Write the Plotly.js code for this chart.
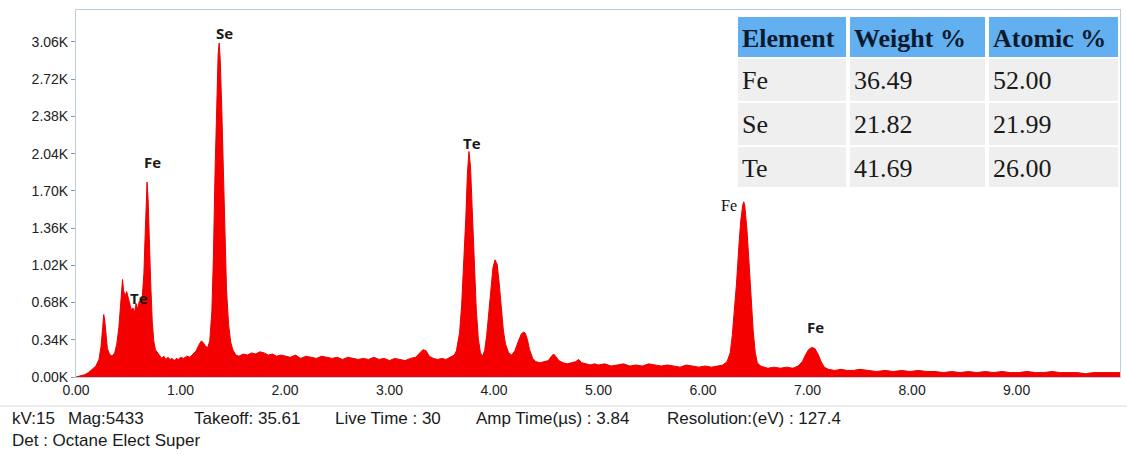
<!DOCTYPE html>
<html>
<head>
<meta charset="utf-8">
<script src="https://cdn.plot.ly/plotly-3.0.1.min.js"></script>
<style>html,body{margin:0;padding:0;background:#fff;}#chart{width:1127px;height:456px;}</style>
</head>
<body>
<div id="chart"></div>
<script>
// ---- Spectrum data (energy in keV, counts in K) ----
const energyA = [0.00,0.04,0.08,0.12,0.16,0.19,0.22,0.24,0.255,0.265,0.275,0.285,0.30,0.32,0.345,0.37,0.39,0.41,0.425,0.435,0.445,0.455,0.47,0.485,0.50,0.515,0.53,0.545,0.56,0.575,0.59,0.605,0.62,0.635,0.65,0.66,0.67,0.68,0.69,0.70,0.715,0.73,0.745,0.76,0.78,0.80,0.82,0.84,0.86,0.88,0.90,0.92,0.94,0.96,0.98];
const countsA = [0.00,0.01,0.02,0.04,0.07,0.10,0.16,0.28,0.45,0.57,0.52,0.38,0.26,0.21,0.19,0.22,0.30,0.45,0.62,0.80,0.89,0.79,0.74,0.78,0.72,0.66,0.61,0.63,0.59,0.67,0.62,0.69,0.66,0.74,0.95,1.25,1.55,1.78,1.62,1.25,0.85,0.50,0.32,0.25,0.22,0.19,0.17,0.19,0.16,0.18,0.16,0.17,0.15,0.17,0.16];

const energyB = [1.00,1.03,1.06,1.09,1.12,1.15,1.18,1.20,1.22,1.24,1.26,1.28,1.30,1.315,1.33,1.345,1.36,1.37,1.38,1.395,1.41,1.425,1.44,1.46,1.48,1.50,1.53,1.56,1.60,1.64,1.68,1.72,1.76,1.80,1.84,1.88,1.92,1.96];
const countsB = [0.18,0.17,0.19,0.18,0.21,0.24,0.30,0.33,0.31,0.28,0.27,0.33,0.60,1.10,1.85,2.55,2.95,3.05,2.90,2.45,1.85,1.25,0.80,0.48,0.32,0.25,0.20,0.19,0.21,0.20,0.22,0.21,0.23,0.22,0.20,0.21,0.19,0.20];

const energyC = [2.00,2.05,2.10,2.15,2.20,2.25,2.30,2.35,2.40,2.45,2.50,2.55,2.60,2.65,2.70,2.75,2.80,2.85,2.90,2.95,3.00,3.05,3.10,3.15,3.20,3.25,3.29,3.32,3.35,3.38,3.42,3.46,3.50,3.54,3.58,3.62];
const countsC = [0.19,0.18,0.20,0.17,0.19,0.18,0.17,0.19,0.18,0.17,0.18,0.16,0.18,0.17,0.16,0.17,0.16,0.18,0.16,0.17,0.15,0.17,0.16,0.15,0.17,0.18,0.22,0.25,0.24,0.19,0.17,0.16,0.17,0.16,0.18,0.20];

const energyD = [3.64,3.67,3.69,3.71,3.73,3.745,3.76,3.775,3.79,3.81,3.83,3.85,3.87,3.89,3.91,3.93,3.95,3.97,3.99,4.01,4.03,4.05,4.07,4.09,4.11,4.14,4.17,4.20,4.23,4.26,4.28,4.30,4.32,4.34,4.37,4.40,4.44,4.48,4.52,4.55,4.57,4.59,4.62,4.66,4.70,4.74,4.78,4.81,4.84,4.88,4.92,4.96];
const countsD = [0.24,0.40,0.65,1.00,1.45,1.85,2.06,1.92,1.55,1.05,0.62,0.35,0.22,0.19,0.24,0.38,0.58,0.82,1.00,1.07,1.03,0.85,0.62,0.42,0.30,0.22,0.20,0.24,0.32,0.39,0.41,0.40,0.34,0.25,0.17,0.14,0.13,0.14,0.15,0.19,0.21,0.19,0.15,0.13,0.12,0.13,0.14,0.16,0.13,0.12,0.11,0.12];

const energyE = [5.00,5.06,5.12,5.18,5.24,5.30,5.36,5.42,5.48,5.54,5.60,5.66,5.72,5.78,5.84,5.90,5.96,6.02,6.08,6.14,6.19,6.23];
const countsE = [0.11,0.12,0.10,0.11,0.12,0.10,0.11,0.10,0.12,0.11,0.10,0.11,0.10,0.09,0.11,0.10,0.09,0.10,0.09,0.10,0.11,0.14];

const energyF = [6.26,6.28,6.30,6.32,6.34,6.36,6.38,6.39,6.40,6.42,6.44,6.46,6.48,6.50,6.52,6.55,6.58];
const countsF = [0.22,0.38,0.58,0.85,1.15,1.42,1.57,1.60,1.56,1.35,1.05,0.72,0.42,0.22,0.13,0.10,0.09];

const energyG = [6.62,6.68,6.74,6.80,6.86,6.91,6.95,6.98,7.01,7.04,7.07,7.10,7.13,7.16,7.20,7.26,7.32,7.38,7.44,7.50,7.58,7.66,7.74,7.82,7.90,7.98,8.06,8.14,8.22,8.30,8.38,8.46,8.54,8.62,8.70,8.78,8.86,8.94,9.02,9.10,9.18,9.26,9.34,9.42,9.50,9.58,9.66,9.74,9.82,9.90,10.00];
const countsG = [0.08,0.09,0.08,0.09,0.08,0.10,0.14,0.20,0.25,0.27,0.26,0.21,0.14,0.09,0.07,0.06,0.07,0.06,0.06,0.07,0.06,0.05,0.06,0.05,0.06,0.05,0.06,0.05,0.05,0.04,0.05,0.04,0.05,0.04,0.05,0.04,0.05,0.04,0.04,0.05,0.04,0.04,0.05,0.04,0.04,0.04,0.03,0.04,0.04,0.04,0.04];

// ---- Peak labels ----
const peakLabels   = ['Se', 'Fe', 'Te', 'Te', 'Fe', 'Fe'];
const peakEnergy   = [1.42, 0.73, 0.60, 3.79, 6.25, 7.08];
const peakLabelK   = [3.14, 1.96, 0.72, 2.14, 1.57, 0.46];
const peakSerif    = [false, false, false, false, true, false];

// ---- Quantification table ----
const tableHeader  = ['Element', 'Weight %', 'Atomic %'];
const tableElement = ['Fe', 'Se', 'Te'];
const weightPct    = ['36.49', '21.82', '41.69'];
const atomicPct    = ['52.00', '21.99', '26.00'];

// ---- Acquisition info ----
const infoLine1 = ['kV:15', 'Mag:5433', 'Takeoff: 35.61', 'Live Time : 30', 'Amp Time(\u00b5s) : 3.84', 'Resolution:(eV) : 127.4'];
const infoLine2 = ['Det : Octane Elect Super'];

// ---- Build ----
const energy = [].concat(energyA, energyB, energyC, energyD, energyE, energyF, energyG);
const counts = [].concat(countsA, countsB, countsC, countsD, countsE, countsF, countsG);

const W = 1127, H = 456, ML = 76, MR = 7, MT = 10, MB = 79;
const PW = W - ML - MR, PH = H - MT - MB;
const px = x => (x - ML) / PW;
const py = y => (H - MB - y) / PH;

const trace = {
  type: 'scatter', mode: 'lines', x: energy, y: counts,
  fill: 'tozeroy', fillcolor: 'rgb(245,0,0)',
  line: {color: 'rgb(235,0,0)', width: 1, shape: 'linear'},
  hoverinfo: 'skip'
};

const shapes = [];
const annotations = [];

// separator line under the axis labels
shapes.push({type: 'line', xref: 'paper', yref: 'paper', x0: px(0), x1: px(W), y0: py(406), y1: py(406),
             line: {color: '#dcdcdc', width: 1}});

// peak labels
peakLabels.forEach((t, i) => {
  annotations.push({
    x: peakEnergy[i], y: peakLabelK[i], xref: 'x', yref: 'y', text: t, showarrow: false,
    xanchor: 'center', yanchor: 'middle',
    font: peakSerif[i] ? {family: 'Liberation Serif, Times New Roman, serif', size: 16, color: '#111'}
                       : {family: 'Open Sans, Liberation Sans, Arial', size: 15, color: '#1a1a1a', weight: 'bold'}
  });
});

// table geometry (pixel boundaries)
const colX = [[738, 846], [850, 985], [989, 1118]];
const rowY = [[17, 57], [59, 101], [103, 145], [147, 187]];
const rows = [tableHeader].concat(tableElement.map((e, i) => [e, weightPct[i], atomicPct[i]]));
rows.forEach((r, ri) => {
  r.forEach((txt, ci) => {
    shapes.push({
      type: 'rect', xref: 'paper', yref: 'paper', layer: 'above',
      x0: px(colX[ci][0]), x1: px(colX[ci][1]), y0: py(rowY[ri][1]), y1: py(rowY[ri][0]),
      fillcolor: ri === 0 ? '#62b0f0' : '#efefef', line: {width: 0}
    });
    annotations.push({
      xref: 'paper', yref: 'paper', x: px(colX[ci][0] + 2), y: py((rowY[ri][0] + rowY[ri][1]) / 2 + 1),
      xanchor: 'left', yanchor: 'middle', showarrow: false, text: ri === 0 ? '<b>' + txt + '</b>' : txt,
      font: {family: 'Liberation Serif, Times New Roman, serif', size: ri === 0 ? 26 : 26, color: ri === 0 ? '#0d1a2e' : '#1a1a1a'}
    });
  });
});

// acquisition info
const info1X = [10, 66, 192, 333, 474, 665];
infoLine1.forEach((t, i) => annotations.push({
  xref: 'paper', yref: 'paper', x: px(info1X[i]), y: py(419), xanchor: 'left', yanchor: 'middle',
  showarrow: false, text: t, font: {family: 'Liberation Sans, Arial', size: 17, color: '#1a1a1a'}
}));
annotations.push({
  xref: 'paper', yref: 'paper', x: px(10), y: py(441), xanchor: 'left', yanchor: 'middle',
  showarrow: false, text: infoLine2[0], font: {family: 'Liberation Sans, Arial', size: 17, color: '#1a1a1a'}
});

const tickFont = {family: 'Liberation Sans, Arial', size: 14, color: '#222'};
const layout = {
  width: W, height: H, margin: {l: ML, r: MR, t: MT, b: MB, pad: 0},
  paper_bgcolor: '#fff', plot_bgcolor: '#fff', showlegend: false,
  xaxis: {range: [0, 9.99], tick0: 0, dtick: 1, tickformat: '.2f', showgrid: false, zeroline: false,
          showline: true, linecolor: '#b8cfe3', linewidth: 1, mirror: true, ticks: '', tickfont: tickFont},
  yaxis: {range: [0, 3.352], tick0: 0, dtick: 0.34, tickformat: '.2f', ticksuffix: 'K', showgrid: false, zeroline: false,
          showline: true, linecolor: '#b8cfe3', linewidth: 1, mirror: true, ticks: 'outside', ticklen: 4,
          tickcolor: '#8a9bb0', tickfont: tickFont},
  shapes: shapes, annotations: annotations
};

Plotly.newPlot('chart', [trace], layout, {displayModeBar: false, staticPlot: true});
</script>
</body>
</html>
